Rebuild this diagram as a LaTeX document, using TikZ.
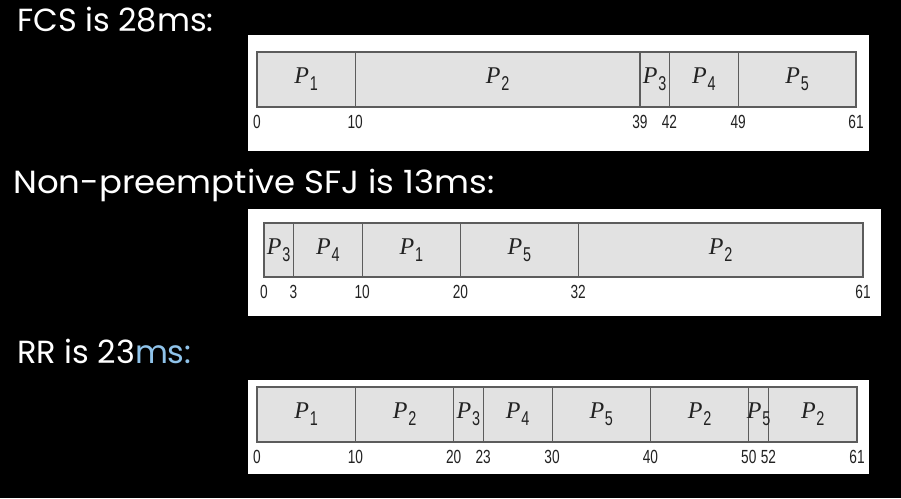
\documentclass[tikz,border=0pt]{standalone}
\usepackage{fontspec}
\newfontfamily\titlefont{Poppins}
\newfontfamily\pfontfam{Liberation Serif}
\newfontfamily\narrowfam[FakeStretch=0.72]{Liberation Sans}
\definecolor{segfill}{HTML}{E2E2E2}
\definecolor{segline}{HTML}{5C5C5C}
\definecolor{ink}{HTML}{222222}
\definecolor{msblue}{HTML}{8FC3EA}
\newcommand\plabel[1]{{\pfontfam\itshape\fontsize{24}{24}\selectfont P}\kern0.8pt\raisebox{-7pt}{\narrowfam\fontsize{20}{20}\selectfont #1}}
\newcommand\gseg[5]{% name, left, scale, t0, t1
  \pgfmathsetmacro\gxa{#2+#3*#4}%
  \pgfmathsetmacro\gwd{#3*(#5-#4)}%
  \node[seg, minimum width=\gwd pt, minimum height=\gh pt, anchor=north west] (#1) at (\gxa,\gtop) {};}
\newcommand\glab[2]{\node[plab] (#1l) at (#1.center) {\plabel{#2}};}
\newcommand\gtick[5]{% name, left, scale, t, y
  \pgfmathsetmacro\gxt{#2+#3*#4}%
  \node[ticklab] (#1) at (\gxt,#5) {#4};}
\begin{document}
\begin{tikzpicture}[x=1pt,y=-1pt,
  seg/.style={draw=segline, fill=segfill, line width=1.1pt, inner sep=0pt, outer sep=0pt},
  plab/.style={inner sep=0pt, text=ink},
  ticklab/.style={inner sep=0pt, text=ink, font=\narrowfam\fontsize{19}{19}\selectfont},
  panel/.style={fill=white, draw=none},
  title/.style={anchor=base west, inner sep=0pt, text=white, font=\titlefont\fontsize{32}{32}\selectfont}]
\useasboundingbox (0,0) rectangle (901,498);
\fill[black] (0,0) rectangle (901,498);
% titles
\node[title] (t1) at (17,31) {FCS is 28ms:};
\node[title] (t2) at (13,193) {\scalebox{1.06}[1]{Non-preemptive SFJ is 13ms:}};
\node[title] (t3) at (17,363) {RR is 23{\color{msblue}ms:}};
% panels
\fill[panel] (248,35) rectangle (869,151);
\fill[panel] (248,209) rectangle (881,316);
\fill[panel] (248,380) rectangle (869,474);
% FCFS
\def\gtop{52}\def\gh{55}
\def\L{257}\def\S{9.8197}
\gseg{a1}{\L}{\S}{0}{10}
\gseg{a2}{\L}{\S}{10}{39}
\gseg{a3}{\L}{\S}{39}{42}
\gseg{a4}{\L}{\S}{42}{49}
\gseg{a5}{\L}{\S}{49}{61}
\glab{a1}{1}\glab{a2}{2}\glab{a3}{3}\glab{a4}{4}\glab{a5}{5}
\foreach \t [count=\i] in {0,10,39,42,49,61} {\gtick{ta\i}{\L}{\S}{\t}{122}}
% SJF
\def\gtop{223}\def\gh{54}
\def\L{264}\def\S{9.8197}
\gseg{b1}{\L}{\S}{0}{3}
\gseg{b2}{\L}{\S}{3}{10}
\gseg{b3}{\L}{\S}{10}{20}
\gseg{b4}{\L}{\S}{20}{32}
\gseg{b5}{\L}{\S}{32}{61}
\glab{b1}{3}\glab{b2}{4}\glab{b3}{1}\glab{b4}{5}\glab{b5}{2}
\foreach \t [count=\i] in {0,3,10,20,32,61} {\gtick{tb\i}{\L}{\S}{\t}{292}}
% RR
\def\gtop{387}\def\gh{55}
\def\L{257}\def\S{9.8361}
\gseg{c1}{\L}{\S}{0}{10}
\gseg{c2}{\L}{\S}{10}{20}
\gseg{c3}{\L}{\S}{20}{23}
\gseg{c4}{\L}{\S}{23}{30}
\gseg{c5}{\L}{\S}{30}{40}
\gseg{c6}{\L}{\S}{40}{50}
\gseg{c7}{\L}{\S}{50}{52}
\gseg{c8}{\L}{\S}{52}{61}
\glab{c1}{1}\glab{c2}{2}\glab{c3}{3}\glab{c4}{4}\glab{c5}{5}\glab{c6}{2}\glab{c7}{5}\glab{c8}{2}
\foreach \t [count=\i] in {0,10,20,23,30,40,50,52,61} {\gtick{tc\i}{\L}{\S}{\t}{457}}
\end{tikzpicture}
\end{document}
